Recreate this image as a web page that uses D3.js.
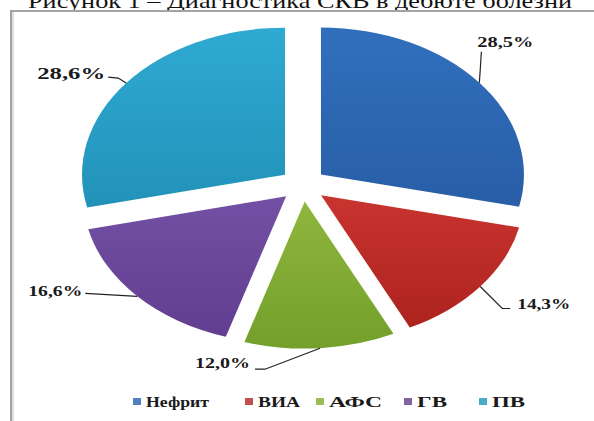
<!DOCTYPE html>
<html>
<head>
<meta charset="utf-8">
<script src="https://cdn.jsdelivr.net/npm/d3@7"></script>
<style>
  body { margin: 0; background: #fff; }
  svg { display: block; }
  .serif { font-family: "Liberation Serif", "Times New Roman", "DejaVu Serif", serif; }
</style>
</head>
<body>
<svg id="chart" width="594" height="421"></svg>
<script>
// Data: share of each diagnosis at disease onset (%)
const categories = ["Нефрит", "ВИА", "АФС", "ГВ", "ПВ"];
const values = [28.5, 14.3, 12.0, 16.6, 28.6];
const titleText = "Рисунок 1 – Диагностика СКВ в дебюте болезни";

// Styling: slice gradients (top, bottom) and legend swatches
const sliceColors = [
  ["#316fbd", "#285ea6"],
  ["#c9342f", "#ad231e"],
  ["#90b63d", "#72a02b"],
  ["#7350a3", "#613e90"],
  ["#2faad2", "#2292b9"]
];
const swatchColors = ["#4f81bd", "#c0504d", "#9bbb59", "#8064a2", "#4bacc6"];

// Leader-line bends and label anchors, relative to the slice's outer mid point
const labelLayout = [
  { pts: [[0, 0], [2, -31]], at: [-2, -36], anchor: "start", size: 14, len: 56 },
  { pts: [[0, 0], [22, 22], [30, 22]], at: [37, 22], anchor: "start", size: 14, len: 53 },
  { pts: [[0, 0], [-55, 21], [-65, 21]], at: [-70, 20], anchor: "end", size: 14, len: 55 },
  { pts: [[0, 0], [-52, -3]], at: [-55, 0], anchor: "end", size: 14, len: 54 },
  { pts: [[0, 0], [-8, -5], [-18, -6]], at: [-21, -4], anchor: "end", size: 16, len: 68 }
];
// Legend swatch x positions and text widths
const legendLayout = [
  { x: 133, len: 63 }, { x: 245, len: 42 }, { x: 316, len: 53 }, { x: 404, len: 30 }, { x: 479, len: 33 }
];

const svg = d3.select("#chart");

// Caption line above the chart frame
svg.append("text")
  .attr("class", "serif")
  .attr("x", 28).attr("y", 8)
  .attr("font-size", 22)
  .attr("textLength", 544).attr("lengthAdjust", "spacingAndGlyphs")
  .attr("fill", "#111")
  .text(titleText);

// Chart frame
svg.append("rect")
  .attr("x", 11).attr("y", 11).attr("width", 620).attr("height", 430)
  .attr("fill", "#fff").attr("stroke", "#a3a3a3").attr("stroke-width", 2);
svg.append("line").attr("x1", 13).attr("x2", 13).attr("y1", 12).attr("y2", 421)
  .attr("stroke", "#d4d4d4").attr("stroke-width", 1.5);

// Gradients
const defs = svg.append("defs");
sliceColors.forEach((c, i) => {
  const g = defs.append("linearGradient").attr("id", "grad" + i)
    .attr("x1", 0).attr("y1", 0).attr("x2", 0).attr("y2", 1);
  g.append("stop").attr("offset", "0%").attr("stop-color", c[0]);
  g.append("stop").attr("offset", "100%").attr("stop-color", c[1]);
});

// Exploded elliptical pie
const cx = 303, cy = 185, rx = 203, ry = 147, k = ry / rx, explode = 23;
const arcs = d3.pie().sort(null).value(d => d)(values);
const arc = d3.arc().innerRadius(0).outerRadius(rx);

const pieG = svg.append("g").attr("transform", `translate(${cx},${cy}) scale(1,${k})`);
pieG.selectAll("path")
  .data(arcs)
  .join("path")
  .attr("transform", d => {
    const m = (d.startAngle + d.endAngle) / 2;
    return `translate(${explode * Math.sin(m)},${-explode * Math.cos(m)})`;
  })
  .attr("d", arc)
  .attr("fill", (d, i) => `url(#grad${i})`);

// Data labels with leader lines
const fmt = v => d3.format(".1f")(v).replace(".", ",") + "%";
arcs.forEach((d, i) => {
  const m = (d.startAngle + d.endAngle) / 2;
  const px = cx + (explode + rx) * Math.sin(m);
  const py = cy - (explode + rx) * Math.cos(m) * k;
  const L = labelLayout[i];
  svg.append("path")
    .attr("d", d3.line()(L.pts.map(p => [px + p[0], py + p[1]])))
    .attr("fill", "none").attr("stroke", "#222").attr("stroke-width", 1.2);
  svg.append("text")
    .attr("class", "serif")
    .attr("x", px + L.at[0]).attr("y", py + L.at[1])
    .attr("text-anchor", L.anchor)
    .attr("font-weight", "bold").attr("font-size", L.size)
    .attr("textLength", L.len).attr("lengthAdjust", "spacingAndGlyphs")
    .attr("fill", "#1a1a1a")
    .text(fmt(d.data));
});

// Legend
const leg = svg.append("g");
categories.forEach((c, i) => {
  const L = legendLayout[i];
  leg.append("rect").attr("x", L.x).attr("y", 398).attr("width", 8).attr("height", 7)
    .attr("fill", swatchColors[i]);
  leg.append("text").attr("class", "serif")
    .attr("x", L.x + 13).attr("y", 407)
    .attr("font-weight", "bold").attr("font-size", 14)
    .attr("textLength", L.len).attr("lengthAdjust", "spacingAndGlyphs")
    .attr("fill", "#1a1a1a")
    .text(c);
});
</script>
</body>
</html>
